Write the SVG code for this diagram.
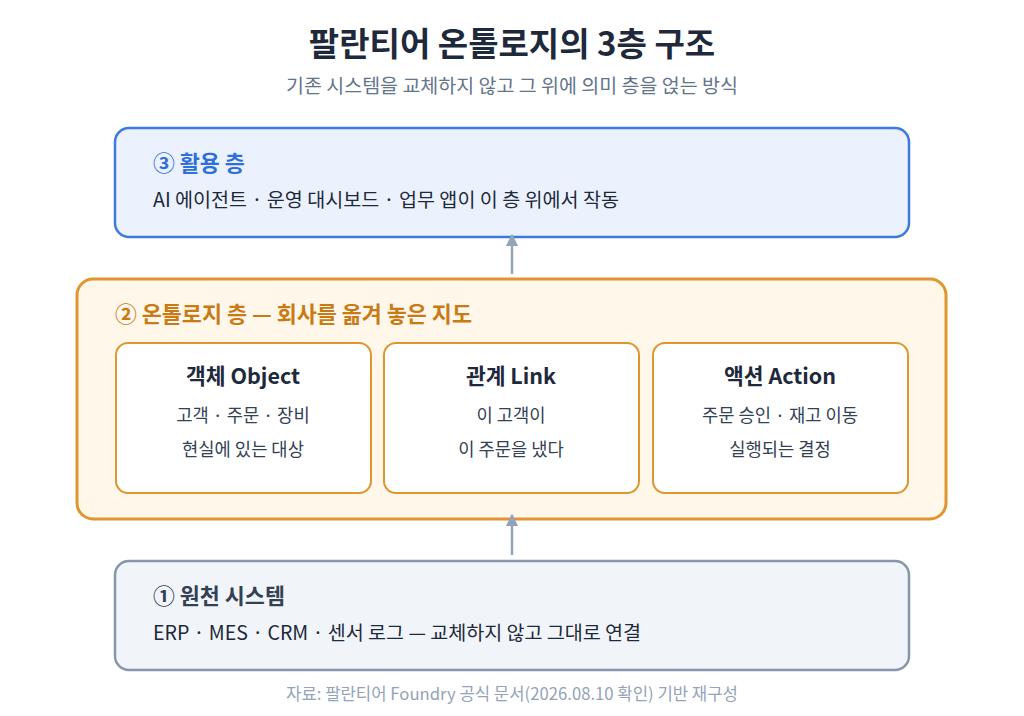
<svg xmlns="http://www.w3.org/2000/svg" width="1024" height="716" viewBox="0 0 1024 716">
<style>
text{font-family:"Noto Sans CJK KR","Noto Sans",sans-serif}
.h{font-weight:700;font-size:21.8px}
.b{font-size:19.6px;fill:#1e293b}
.card{fill:#fff;stroke:#e0962e;stroke-width:2}
.ct{font-weight:700;font-size:21.5px;fill:#1e293b;text-anchor:middle}
.cs{font-size:17.7px;fill:#334155;text-anchor:middle}
.con{stroke:#94a3b8;stroke-width:2.5;fill:none}
</style>
<defs><marker id="ar" viewBox="0 0 10 10" refX="9" refY="5" markerWidth="5" markerHeight="5" orient="auto"><path d="M0,0L10,5L0,10z" fill="#94a3b8"/></marker></defs>
<rect width="1024" height="716" fill="#fff"/>
<text x="512" y="56" text-anchor="middle" font-weight="700" font-size="33" fill="#1e293b">팔란티어 온톨로지의 3층 구조</text>
<text x="512" y="93" text-anchor="middle" font-size="19.5" fill="#64748b">기존 시스템을 교체하지 않고 그 위에 의미 층을 얹는 방식</text>
<g id="layer3"><rect x="115" y="128" width="794" height="109" rx="14" fill="#ebf2fe" stroke="#3b7ae0" stroke-width="2.5"/>
<text x="153" y="171" class="h" fill="#2f6fdc">③ 활용 층</text>
<text x="153" y="207" class="b" textLength="466">AI 에이전트 · 운영 대시보드 · 업무 앱이 이 층 위에서 작동</text></g>
<g id="layer2"><rect x="77" y="279" width="869" height="240" rx="16" fill="#fff7ea" stroke="#e0962e" stroke-width="3"/>
<text x="115" y="322" class="h" fill="#c87a14">② 온톨로지 층 — 회사를 옮겨 놓은 지도</text></g>
<g id="obj"><rect class="card" x="116" y="343" width="255" height="150" rx="12"/>
<text x="243" y="384" class="ct">객체 Object</text><text x="243" y="422" class="cs">고객 · 주문 · 장비</text><text x="243" y="456" class="cs">현실에 있는 대상</text></g>
<g id="link"><rect class="card" x="384" y="343" width="255" height="150" rx="12"/>
<text x="511" y="384" class="ct">관계 Link</text><text x="511" y="422" class="cs">이 고객이</text><text x="511" y="456" class="cs">이 주문을 냈다</text></g>
<g id="action"><rect class="card" x="653" y="343" width="255" height="150" rx="12"/>
<text x="780" y="384" class="ct">액션 Action</text><text x="780" y="422" class="cs">주문 승인 · 재고 이동</text><text x="780" y="456" class="cs">실행되는 결정</text></g>
<g id="layer1"><rect x="115" y="561" width="794" height="109" rx="14" fill="#f1f5f9" stroke="#8796ab" stroke-width="2.5"/>
<text x="153" y="604" class="h" fill="#334155">① 원천 시스템</text>
<text x="153" y="640" class="b" textLength="488">ERP · MES · CRM · 센서 로그 — 교체하지 않고 그대로 연결</text></g>
<g id="connectors"><line class="con" x1="512" y1="274" x2="512" y2="235" marker-end="url(#ar)"/><line class="con" x1="512" y1="555" x2="512" y2="515" marker-end="url(#ar)"/></g>
<text x="512" y="700" text-anchor="middle" font-size="16.7" fill="#94a3b8">자료: 팔란티어 Foundry 공식 문서(2026.08.10 확인) 기반 재구성</text>
</svg>
